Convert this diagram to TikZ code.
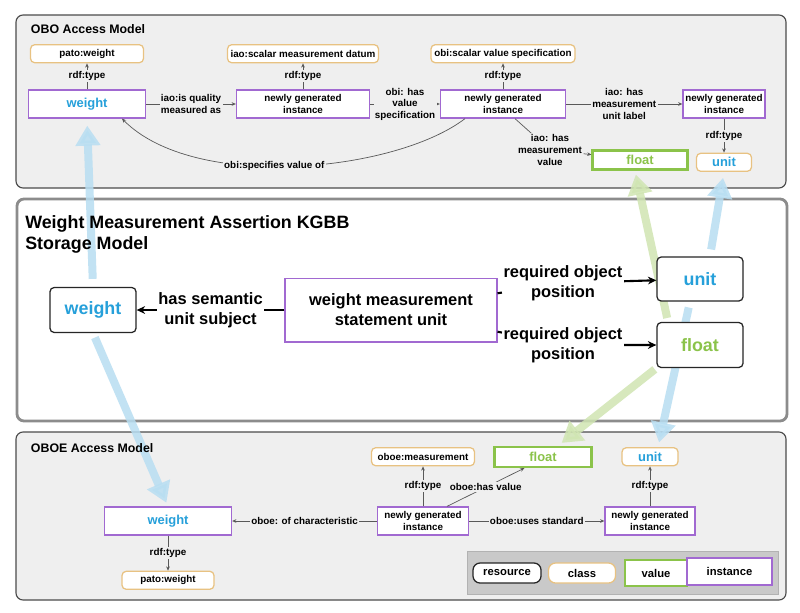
\documentclass[tikz,border=0pt]{standalone}
\usepackage{fontspec}
\setmainfont{Liberation Sans}
\usepackage{xcolor}
\usetikzlibrary{arrows.meta, positioning, calc, backgrounds}
\definecolor{panelgray}{RGB}{239,239,239}
\definecolor{paneledge}{RGB}{75,75,75}
\definecolor{midedge}{RGB}{140,140,140}
\definecolor{instpurple}{RGB}{161,105,209}
\definecolor{classorange}{RGB}{232,194,130}
\definecolor{valgreen}{RGB}{139,195,74}
\definecolor{wblue}{RGB}{38,160,218}
\definecolor{flowblue}{RGB}{184,222,242}
\definecolor{flowgreen}{RGB}{208,229,178}
\definecolor{legendgray}{RGB}{201,201,201}
\newcommand{\smalltxt}{\fontsize{7}{8.2}\selectfont\bfseries}
\newcommand{\nodetxt}{\fontsize{9.2}{11}\selectfont\bfseries}
\newcommand{\legtxt}{\fontsize{8}{10}\selectfont\bfseries}
\newcommand{\titletxt}{\fontsize{8.8}{10.5}\selectfont\bfseries}
\newcommand{\bigtxt}{\fontsize{11.7}{14.2}\selectfont\bfseries}
\newcommand{\hugetxt}{\fontsize{12.7}{15}\selectfont\bfseries}

\begin{document}
\begin{tikzpicture}[
      x=0.025cm, y=-0.025cm,
      instbox/.style={rectangle, draw=instpurple, line width=0.9pt, fill=white, minimum height=0.7cm, inner sep=0pt, align=center, font=\smalltxt},
      classbox/.style={rectangle, rounded corners=3pt, draw=classorange, line width=0.9pt, fill=white, minimum height=0.45cm, inner sep=0pt, align=center, font=\smalltxt},
      valbox/.style={rectangle, draw=valgreen, line width=1.6pt, fill=white, inner sep=0pt, text=valgreen, font=\nodetxt},
      resbox/.style={rectangle, rounded corners=3pt, draw=black!85, line width=0.9pt, fill=white, inner sep=0pt, font=\hugetxt},
      lbl/.style={fill=panelgray, inner sep=1pt, align=center, font=\smalltxt},
      biglbl/.style={fill=white, inner sep=1pt, align=center, font=\bigtxt},
      link/.style={-{Stealth[length=3pt,width=2.6pt]}, draw=black!65, line width=0.5pt},
      bigedge/.style={-{Stealth[length=6pt,width=5.5pt]}, line width=1.5pt},
      panel/.style={rounded corners=5pt, draw=paneledge, fill=panelgray, line width=0.8pt},
      flowarrow/.style={line width=0.2cm, -{Triangle[length=0.5cm,width=0.6cm]}, opacity=0.85}
    ]
      \useasboundingbox (0,0) rectangle (800,612);

      % Panels
      \begin{pgfonlayer}{background}
        \draw[panel] (16,15) rectangle (786,188);
        \draw[rounded corners=5pt, draw=midedge, line width=2pt, fill=white] (17,199) rectangle (787,421);
        \draw[panel] (16,432) rectangle (786,600);
      \end{pgfonlayer}

      % OBO access model
      \node[anchor=west, font=\titletxt] (tobo) at (26,29) {OBO Access Model};
      \node[instbox, minimum width=2.925cm, text=wblue, font=\nodetxt] (wtop) at (87,104) {weight};
      \node[classbox, minimum width=2.825cm, above=0.65cm of wtop] (pto) {pato:weight};
      \node[instbox, minimum width=3.325cm] (nA) at (303,104) {newly generated\\instance};
      \node[classbox, minimum width=3.775cm, above=0.65cm of nA] (iaoD) {iao:scalar measurement datum};
      \node[instbox, minimum width=3.125cm] (nB) at (503,104) {newly generated\\instance};
      \node[classbox, minimum width=3.6cm, above=0.65cm of nB] (obiS) {obi:scalar value specification};
      \node[instbox, minimum width=2.05cm] (nC) at (724,104) {newly generated\\instance};
      \node[classbox, minimum width=1.375cm, below=0.85cm of nC, text=wblue, font=\nodetxt] (utop) {unit};
      \node[valbox, minimum width=2.375cm, minimum height=0.475cm] (ftop) at (640,160) {float};
      \node[lbl] (mvlab) at (550,150) {iao: has\\measurement\\value};

      \draw[link] (wtop) -- node[lbl]{rdf:type} (pto);
      \draw[link] (nA) -- node[lbl]{rdf:type} (iaoD);
      \draw[link] (nB) -- node[lbl]{rdf:type} (obiS);
      \draw[link] (nC) -- node[lbl]{rdf:type} (utop);
      \draw[link] (wtop) -- node[lbl]{iao:is quality\\measured as} (nA);
      \draw[link] (nA) -- node[lbl]{obi: has\\value\\specification} (nB);
      \draw[link] (nB) -- node[lbl]{iao: has\\measurement\\unit label} (nC);
      \draw[link, -] ($(nB.south)+(12,0)$) -- (mvlab);
      \draw[link] (mvlab) -- (ftop);
      \draw[link] ($(nB.south)+(-38,0)$) .. controls (395,172) and (195,192) .. node[lbl, pos=0.55]{obi:specifies value of} ($(wtop.south)+(35,0)$);

      % KGBB storage model
      \node[anchor=north west, align=left, inner sep=0pt, font=\hugetxt] (tkgbb) at (25,215) {Weight Measurement Assertion KGBB\\Storage Model};
      \node[resbox, minimum width=2.15cm, minimum height=1.125cm, text=wblue] (wmid) at (93,310) {weight};
      \node[rectangle, draw=instpurple, line width=1.4pt, minimum width=5.275cm, minimum height=1.575cm, align=center, font=\bigtxt] (smid) at (391,310) {weight measurement\\statement unit};
      \node[resbox, minimum width=2.15cm, minimum height=1.1cm, text=wblue] (umid) at (700,279) {unit};
      \node[resbox, minimum width=2.15cm, minimum height=1.125cm, text=valgreen] (fmid) at (700,345) {float};
      \node[biglbl] (rq1) at (563,283) {required object\\position};
      \node[biglbl] (rq2) at (563,345) {required object\\position};

      \draw[bigedge] (smid) -- node[biglbl]{has semantic\\unit subject} (wmid);
      \draw[bigedge] (smid) -- (rq1) -- (umid);
      \draw[bigedge] (smid) -- (rq2) -- (fmid);

      % OBOE access model
      \node[anchor=west, font=\titletxt] (toboe) at (26,448) {OBOE Access Model};
      \node[instbox, minimum width=3.175cm, text=wblue, font=\nodetxt] (wbot) at (168,521) {weight};
      \node[classbox, minimum width=2.3cm, below=0.875cm of wbot] (pbot) {pato:weight};
      \node[instbox, minimum width=2.275cm] (nD) at (423,521) {newly generated\\instance};
      \node[classbox, minimum width=2.575cm, above=1cm of nD] (oboeM) {oboe:measurement};
      \node[valbox, minimum width=2.425cm, minimum height=0.5cm] (fbot) at (543,457) {float};
      \node[instbox, minimum width=2.25cm] (nE) at (650,521) {newly generated\\instance};
      \node[classbox, minimum width=1.4cm, above=1cm of nE, text=wblue, font=\nodetxt] (ubot) {unit};

      \draw[link] (wbot) -- node[lbl]{rdf:type} (pbot);
      \draw[link] (nD) -- node[lbl]{oboe: of characteristic} (wbot);
      \draw[link] (nD) -- node[lbl]{rdf:type} (oboeM);
      \draw[link] ($(nD.north)+(24,0)$) -- node[lbl]{oboe:has value} ($(fbot.south west)+(31,0)$);
      \draw[link] (nD) -- node[lbl]{oboe:uses standard} (nE);
      \draw[link] (nE) -- node[lbl]{rdf:type} (ubot);

      % Legend
      \node[fill=legendgray, draw=black!30, minimum width=7.775cm, minimum height=1.075cm] (legend) at (622.5,572.5) {};
      \node[resbox, rounded corners=5pt, minimum width=1.7cm, minimum height=0.5cm, font=\legtxt] (lres) at (507,573) {resource};
      \node[classbox, rounded corners=5pt, minimum width=1.675cm, minimum height=0.5cm, font=\legtxt] (lcls) at (582,573) {class};
      \node[valbox, minimum width=1.55cm, minimum height=0.65cm, text=black, font=\legtxt] (lval) at (656,573) {value};
      \node[instbox, minimum width=2.125cm, minimum height=0.675cm, font=\legtxt] (linst) at (729.5,571.5) {instance};

      % Mapping arrows
      \begin{pgfonlayer}{background}
        \draw[flowarrow, flowblue, shorten <=0.2cm, shorten >=0.175cm] (wmid.north) -- (wtop.south);
        \draw[flowarrow, flowblue, shorten <=0.12cm, shorten >=0.1cm] (wmid.south) -- (wbot.north);
        \draw[flowarrow, flowgreen, shorten <=0.1cm, shorten >=0.1cm] ($(fmid.north)+(-32,0)$) -- ($(ftop.south)+(-5,0)$);
        \draw[flowarrow, flowblue, shorten <=0.175cm, shorten >=0.15cm] ($(umid.north)+(10,0)$) -- (utop.south);
        \draw[flowarrow, flowgreen, shorten <=0.05cm, shorten >=0.12cm] (fmid.south west) -- ($(fbot.north)!0.3!(fbot.north east)$);
        \draw[flowarrow, flowblue, shorten <=0.15cm, shorten >=0.12cm] ($(umid.south)+(-10,0)$) -- ($(ubot.north)+(8,0)$);
      \end{pgfonlayer}

    \end{tikzpicture}
\end{document}
